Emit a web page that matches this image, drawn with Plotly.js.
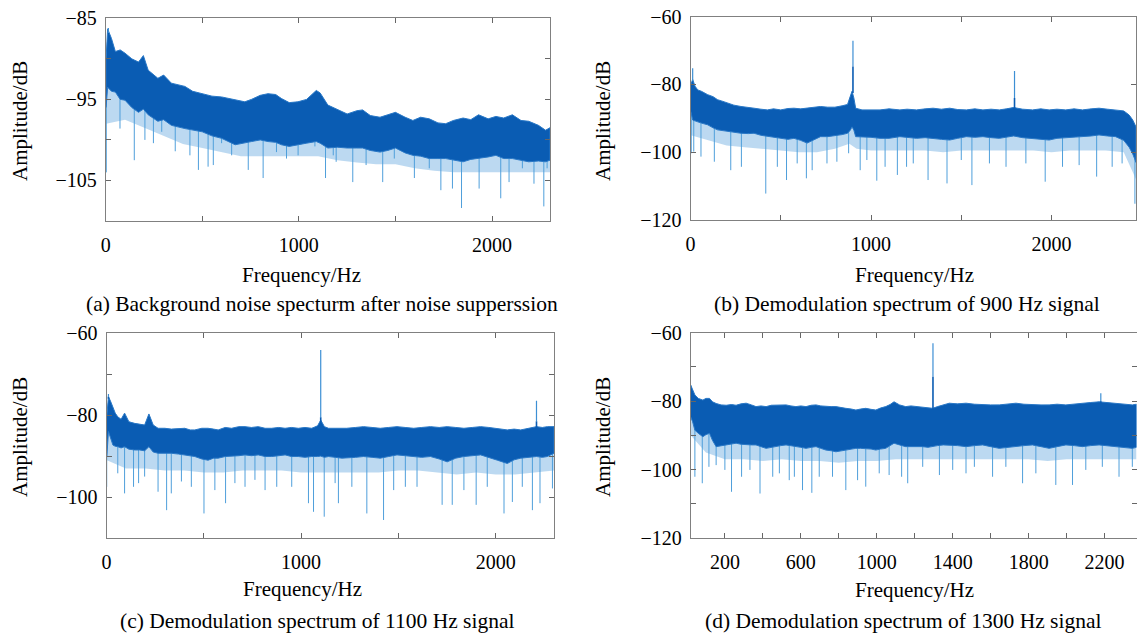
<!DOCTYPE html>
<html>
<head>
<meta charset="utf-8">
<script src="https://cdn.plot.ly/plotly-3.0.1.min.js"></script>
<style>html,body{margin:0;padding:0;background:#fff;}#chart{width:1137px;height:635px;}</style>
</head>
<body>
<div id="chart"></div>
<script>
// ---------- Panel (a): background noise spectrum ----------
const aFreq = [2,10,30,50,75,100,135,170,195,220,270,300,340,410,450,500,550,600,670,720,755,800,840,880,910,950,995,1040,1090,1110,1150,1200,1250,1300,1330,1370,1420,1460,1500,1550,1590,1630,1675,1720,1760,1800,1850,1890,1930,1980,2020,2060,2105,2150,2190,2240,2277,2300];
const aTop = [-90.0,-86.3,-87.5,-89.1,-88.9,-89.3,-90.0,-90.4,-89.6,-91.4,-92.4,-92.0,-93.0,-93.4,-94.0,-94.3,-94.6,-94.7,-95.1,-95.3,-95.0,-94.5,-94.3,-94.4,-94.9,-95.4,-95.3,-95.0,-93.9,-94.2,-95.7,-96.3,-96.8,-96.4,-96.3,-97.0,-97.2,-96.9,-96.6,-97.2,-97.6,-97.2,-97.4,-97.9,-98.0,-97.6,-97.3,-97.5,-96.9,-97.4,-97.1,-97.3,-96.9,-97.6,-97.7,-98.2,-98.8,-98.5];
const aBottom = [-96.0,-93.5,-94.0,-94.1,-95.0,-95.1,-96.0,-96.6,-96.2,-96.9,-97.7,-97.5,-98.2,-98.6,-98.8,-99.0,-99.5,-99.8,-100.6,-100.4,-100.2,-100.0,-100.2,-100.3,-100.6,-100.8,-100.6,-100.4,-100.2,-100.4,-101.0,-100.9,-101.0,-101.0,-101.0,-101.3,-101.5,-101.3,-101.0,-101.6,-101.9,-102.0,-102.3,-102.3,-102.3,-102.5,-102.7,-102.4,-102.3,-102.1,-101.9,-102.3,-102.3,-102.5,-102.7,-102.6,-102.7,-102.5];
const aFringeFreq = [2,100,200,300,400,500,600,700,800,900,1000,1100,1200,1300,1400,1500,1600,1700,1800,1900,2000,2100,2200,2300];
const aFringe = [-98.0,-97.5,-98.5,-99.5,-100.5,-101.0,-101.5,-102.0,-102.0,-102.0,-102.0,-102.0,-102.5,-102.8,-103.0,-103.0,-103.5,-103.8,-104.0,-104.0,-104.0,-104.0,-104.0,-104.0];
const aDipFreq = [3,74,148,203,247,290,360,436,480,530,557,600,652,738,815,884,936,996,1083,1138,1178,1193,1279,1348,1434,1494,1598,1675,1735,1795,1842,1933,2045,2088,2157,2217,2268,2285];
const aDipVal = [-104.0,-98.6,-102.5,-100.0,-100.4,-99.0,-101.4,-101.9,-103.7,-103.3,-103.1,-100.4,-101.9,-103.7,-104.7,-101.5,-102.3,-101.9,-100.8,-104.7,-101.9,-102.7,-105.2,-103.1,-105.2,-102.3,-104.7,-103.5,-106.2,-106.0,-108.4,-106.0,-107.2,-105.2,-103.5,-105.4,-108.2,-103.5];
const aPeakFreq = [14];
const aPeakVal = [-86.2];
const aCoreVal = [-86.8];

// ---------- Panel (b): 900 Hz signal ----------
const bFreq = [2,12,25,40,60,95,125,150,180,205,240,280,320,352,390,426,460,500,540,573,610,646,680,720,760,800,840,870,885,895,905,915,950,1000,1050,1100,1160,1200,1252,1300,1344,1390,1436,1480,1528,1575,1620,1665,1711,1750,1790,1840,1895,1940,1987,2030,2079,2125,2171,2220,2263,2310,2355,2400,2430,2450,2468];
const bTop = [-80.0,-78.5,-80.5,-81.6,-82.0,-83.0,-83.6,-84.5,-85.0,-85.5,-86.1,-86.5,-86.9,-87.0,-87.3,-87.5,-87.2,-87.5,-87.1,-87.0,-87.2,-87.0,-86.8,-86.5,-86.7,-86.7,-86.3,-85.9,-83.5,-82.0,-84.0,-87.0,-87.5,-87.5,-87.5,-87.2,-87.5,-87.3,-87.5,-87.2,-87.0,-87.3,-87.0,-87.4,-87.5,-87.2,-87.5,-87.3,-87.5,-87.2,-86.8,-87.3,-87.5,-87.2,-87.5,-87.3,-87.5,-87.2,-87.5,-87.2,-87.0,-87.3,-87.5,-87.8,-89.0,-90.5,-92.5];
const bBottom = [-88.0,-90.5,-90.8,-91.0,-91.4,-91.9,-92.8,-93.4,-93.6,-93.9,-94.1,-94.4,-94.5,-94.4,-95.0,-95.4,-95.6,-95.9,-96.2,-95.9,-96.5,-97.3,-96.4,-95.4,-95.4,-95.2,-94.8,-94.4,-93.5,-92.5,-93.5,-95.4,-95.4,-95.6,-95.9,-95.9,-95.4,-95.6,-95.9,-95.7,-95.9,-96.2,-96.4,-95.9,-95.4,-95.6,-95.4,-95.7,-95.9,-95.6,-95.2,-95.7,-95.9,-96.2,-96.4,-95.9,-95.9,-95.6,-95.4,-95.2,-94.9,-95.2,-95.4,-96.5,-98.5,-100.5,-103.0];
const bFringeFreq = [2,100,200,300,400,500,600,700,800,880,920,1000,1100,1200,1300,1400,1500,1600,1700,1800,1900,2000,2100,2200,2300,2400,2468];
const bFringe = [-95.0,-96.5,-98.0,-98.5,-99.0,-99.5,-100.0,-100.0,-99.0,-97.5,-99.0,-99.5,-99.5,-99.5,-99.5,-100.0,-99.5,-99.5,-99.5,-99.5,-99.5,-100.0,-99.5,-99.5,-99.5,-100.0,-108.0];
const bDipFreq = [4,18,58,132,223,282,417,481,532,591,642,674,756,811,876,940,977,1032,1078,1146,1197,1234,1316,1421,1500,1559,1656,1748,1858,1965,2061,2153,2250,2336,2391,2462];
const bDipVal = [-100.3,-99.8,-101.3,-102.8,-105.3,-104.3,-112.2,-104.3,-108.2,-103.3,-107.7,-105.3,-103.3,-102.8,-100.3,-105.3,-102.3,-108.4,-104.3,-106.7,-104.3,-103.3,-108.2,-109.2,-102.3,-109.7,-103.3,-104.3,-103.3,-108.7,-104.3,-103.8,-107.2,-104.3,-103.3,-115.2];
const bPeakFreq = [12,900,1795];
const bPeakVal = [-75.2,-67.1,-76.0];
const bCoreVal = [-79.0,-74.7,-84.0];

// ---------- Panel (c): 1100 Hz signal ----------
const cFreq = [2,10,20,33,45,58,75,93,115,144,170,196,218,240,265,300,333,370,402,430,454,490,522,550,574,610,643,680,712,745,780,815,849,885,918,950,986,1020,1055,1085,1101,1120,1141,1175,1210,1235,1280,1321,1365,1407,1450,1493,1535,1579,1620,1665,1710,1751,1795,1837,1880,1923,1965,2009,2060,2095,2129,2170,2210,2240,2266,2300];
const cTop = [-80.0,-75.5,-76.5,-77.9,-79.5,-80.4,-81.0,-79.5,-81.6,-82.0,-82.2,-82.4,-79.7,-82.4,-83.2,-83.2,-83.4,-83.2,-83.2,-83.6,-83.6,-83.2,-83.2,-83.4,-83.6,-83.0,-83.2,-82.8,-82.8,-83.0,-82.8,-83.2,-83.2,-83.0,-83.2,-83.0,-83.2,-83.0,-83.2,-82.6,-81.2,-82.8,-83.2,-83.2,-83.2,-83.2,-83.0,-82.8,-83.0,-83.2,-83.0,-82.8,-83.0,-83.2,-83.0,-82.8,-83.0,-82.8,-83.0,-83.2,-83.0,-82.8,-83.0,-83.2,-83.6,-83.4,-83.6,-83.2,-82.8,-83.0,-82.8,-82.8];
const cBottom = [-90.0,-84.0,-85.5,-87.3,-87.6,-87.7,-88.0,-87.7,-88.3,-88.5,-88.5,-88.7,-87.7,-89.0,-89.3,-89.3,-89.3,-89.5,-89.7,-89.9,-90.1,-90.7,-91.0,-90.5,-90.5,-90.1,-90.1,-89.9,-89.7,-89.9,-89.7,-90.1,-90.1,-89.9,-89.7,-90.1,-90.1,-90.3,-90.1,-90.1,-90.0,-90.3,-90.1,-90.3,-90.5,-90.5,-90.3,-90.1,-90.3,-90.5,-90.1,-89.7,-90.0,-90.1,-90.3,-90.1,-90.7,-91.4,-90.5,-90.1,-89.9,-89.7,-90.3,-91.0,-91.8,-90.9,-90.5,-90.3,-90.1,-90.3,-90.1,-89.3];
const cFringeFreq = [2,100,200,300,400,500,600,700,800,900,1000,1100,1200,1300,1400,1500,1600,1700,1800,1900,2000,2100,2200,2300];
const cFringe = [-91.0,-93.0,-93.0,-93.5,-93.5,-94.0,-94.0,-93.5,-93.5,-93.5,-94.0,-94.0,-94.0,-94.0,-94.0,-93.5,-93.5,-94.0,-94.5,-94.0,-94.5,-94.5,-94.0,-93.5];
const cDipFreq = [1,58,93,139,165,196,265,309,333,385,436,501,557,612,660,712,763,815,875,952,1038,1064,1119,1175,1192,1261,1338,1424,1476,1536,1596,1725,1777,1837,1900,1957,2043,2086,2137,2189,2228,2292];
const cDipVal = [-97.5,-94.2,-99.1,-97.5,-96.6,-95.0,-98.7,-103.2,-99.1,-96.2,-97.5,-104.0,-98.3,-101.5,-96.6,-97.5,-95.8,-98.3,-97.5,-97.5,-101.5,-103.6,-104.8,-96.6,-101.5,-97.5,-104.0,-105.6,-98.3,-97.5,-97.5,-101.9,-101.9,-98.3,-101.9,-97.5,-104.0,-101.2,-97.5,-103.2,-101.5,-97.9];
const cPeakFreq = [10,1101,2210];
const cPeakVal = [-74.8,-64.1,-76.5];
const cCoreVal = [-75.5,-80.5,-81.5];

// ---------- Panel (d): 1300 Hz signal ----------
const dFreq = [20,30,42,60,84,100,119,135,154,180,207,235,259,285,312,340,364,390,417,445,469,495,522,548,574,600,627,655,680,705,732,760,785,810,837,865,890,915,942,970,995,1020,1047,1070,1091,1120,1152,1180,1207,1240,1270,1295,1320,1350,1382,1425,1470,1515,1558,1600,1645,1690,1733,1775,1820,1865,1908,1950,1996,2040,2083,2127,2171,2215,2258,2300,2346,2368];
const dTop = [-75.3,-76.5,-78.2,-79.2,-79.7,-79.2,-79.2,-80.2,-80.7,-81.1,-81.2,-81.0,-81.2,-80.8,-80.6,-81.1,-81.6,-81.4,-81.6,-81.2,-81.1,-81.2,-81.1,-81.4,-81.6,-81.4,-81.6,-81.2,-81.1,-81.4,-81.6,-81.6,-81.6,-81.9,-82.1,-82.3,-82.6,-82.3,-82.1,-82.4,-82.6,-82.0,-81.6,-81.0,-80.2,-81.1,-81.6,-81.4,-81.6,-81.8,-82.0,-82.1,-81.6,-81.2,-80.6,-80.8,-80.6,-80.9,-81.1,-81.1,-81.1,-80.9,-80.6,-80.9,-81.1,-81.1,-81.1,-80.9,-81.1,-80.8,-80.6,-80.4,-80.2,-80.4,-80.6,-80.9,-81.1,-80.9];
const dBottom = [-84.6,-86.0,-88.5,-89.4,-90.4,-89.8,-89.4,-91.5,-93.3,-93.0,-92.8,-92.5,-92.3,-92.6,-92.8,-92.8,-92.8,-93.3,-93.8,-93.5,-93.3,-93.0,-92.8,-93.0,-93.3,-93.5,-93.8,-93.5,-93.3,-93.8,-94.3,-94.5,-94.8,-94.5,-94.3,-94.0,-93.8,-93.8,-93.8,-94.0,-94.3,-94.0,-93.8,-93.0,-92.3,-92.8,-93.3,-93.3,-93.3,-93.3,-93.5,-93.3,-93.0,-92.8,-92.8,-93.0,-93.3,-93.0,-92.8,-93.3,-93.8,-93.5,-93.3,-93.0,-92.8,-93.3,-93.8,-93.3,-92.8,-93.0,-93.3,-93.0,-92.8,-93.0,-93.3,-93.5,-93.8,-93.5];
const dFringeFreq = [20,100,200,300,400,500,600,700,800,900,1000,1100,1200,1300,1400,1500,1600,1700,1800,1900,2000,2100,2200,2300,2368];
const dFringe = [-90.0,-95.0,-97.0,-97.0,-97.5,-97.0,-97.5,-97.5,-98.0,-97.5,-97.5,-97.0,-97.0,-97.0,-97.0,-97.0,-97.0,-97.0,-97.0,-97.5,-97.0,-97.0,-97.0,-97.0,-97.0];
const dDipFreq = [42,81,116,154,200,235,288,332,385,452,487,539,566,609,658,697,767,837,899,942,1013,1065,1131,1163,1242,1330,1400,1470,1514,1610,1680,1768,1838,1943,2031,2101,2188,2276,2346];
const dDipVal = [-102.1,-104.0,-99.2,-98.7,-100.1,-106.5,-102.1,-100.1,-107.0,-102.1,-101.1,-103.1,-102.1,-106.0,-106.8,-102.1,-102.1,-106.0,-103.1,-105.0,-101.1,-101.6,-102.1,-104.0,-99.2,-101.6,-100.1,-101.1,-99.2,-102.1,-99.2,-104.0,-101.1,-104.5,-104.5,-100.1,-99.2,-102.1,-99.2];
const dPeakFreq = [20,1296,2180];
const dPeakVal = [-75.3,-63.1,-77.7];
const dCoreVal = [-76.0,-72.9,-80.0];

// ---------- Text ----------
const captions = [
  "(a) Background noise specturm after noise supperssion",
  "(b) Demodulation spectrum of 900 Hz signal",
  "(c) Demodulation spectrum of 1100 Hz signal",
  "(d) Demodulation spectrum of 1300 Hz signal"
];
const xTitle = "Frequency/Hz";
const yTitle = "Amplitude/dB";

// ---------- Drawing ----------
const DARK = '#0a5cb3', EDGE = '#2a78c6', LIGHT = '#4f9fdb', SPIKE = '#3d8fd4', FRINGE = 'rgba(80,155,218,0.38)';
const FONT = 'Liberation Serif, Times New Roman, serif';
const W = 1137, H = 635;

function nearest(f, q){ let bi = 0; for (let i = 1; i < f.length; i++) if (Math.abs(f[i]-q) < Math.abs(f[bi]-q)) bi = i; return bi; }

function panelTraces(f, top, bot, ff, fr, df, dv, pf, pv, cv, xa, ya){
  const tr = [];
  const base = {type:'scatter', mode:'lines', xaxis:xa, yaxis:ya, hoverinfo:'skip', showlegend:false};
  // light fringe of dense thin lines under the band
  tr.push(Object.assign({}, base, {x:ff.concat(f.slice().reverse()), y:fr.concat(top.slice().reverse()),
           fill:'toself', fillcolor:FRINGE, line:{color:'rgba(0,0,0,0)', width:0}}));
  // light downward noise dips
  const dx = [], dy = [];
  df.forEach((q, i) => { const k = nearest(f, q); dx.push(q, q, null); dy.push(dv[i], bot[k] + 1, null); });
  tr.push(Object.assign({}, base, {x:dx, y:dy, line:{color:LIGHT, width:1}}));
  // dense band
  tr.push(Object.assign({}, base, {x:f.concat(f.slice().reverse()), y:top.concat(bot.slice().reverse()),
           fill:'toself', fillcolor:DARK, line:{color:EDGE, width:1}}));
  // tone peaks
  const lx = [], ly = [], kx = [], ky = [];
  pf.forEach((q, i) => { const k = nearest(f, q); lx.push(q, q, null); ly.push(cv[i], pv[i], null); kx.push(q, q, null); ky.push(top[k] - 0.5, cv[i], null); });
  tr.push(Object.assign({}, base, {x:lx, y:ly, line:{color:SPIKE, width:1.2}}));
  tr.push(Object.assign({}, base, {x:kx, y:ky, line:{color:DARK, width:1.6}}));
  return tr;
}

const data = [].concat(
  panelTraces(aFreq, aTop, aBottom, aFringeFreq, aFringe, aDipFreq, aDipVal, aPeakFreq, aPeakVal, aCoreVal, 'x', 'y'),
  panelTraces(bFreq, bTop, bBottom, bFringeFreq, bFringe, bDipFreq, bDipVal, bPeakFreq, bPeakVal, bCoreVal, 'x2', 'y2'),
  panelTraces(cFreq, cTop, cBottom, cFringeFreq, cFringe, cDipFreq, cDipVal, cPeakFreq, cPeakVal, cCoreVal, 'x3', 'y3'),
  panelTraces(dFreq, dTop, dBottom, dFringeFreq, dFringe, dDipFreq, dDipVal, dPeakFreq, dPeakVal, dCoreVal, 'x4', 'y4')
);

function px2x(p){ return p / W; }
function px2y(p){ return 1 - p / H; }

function axisBase(){
  return {showgrid:false, zeroline:false, showline:true, linecolor:'#808080', linewidth:1, mirror:'ticks',
          ticks:'inside', ticklen:5, tickcolor:'#666', tickwidth:1,
          tickfont:{family:FONT, size:20, color:'#000'}, automargin:false, fixedrange:true};
}
function xAx(l, r, range, vals, labels, anchor){
  return Object.assign(axisBase(), {domain:[px2x(l), px2x(r)], range:range, tickvals:vals, ticktext:labels, anchor:anchor, ticklabelstandoff:6});
}
function yAx(t, b, range, vals, labels, anchor){
  return Object.assign(axisBase(), {domain:[px2y(b), px2y(t)], range:range, tickvals:vals, ticktext:labels, anchor:anchor, ticklabelstandoff:4});
}

const xt0 = [0,500,1000,1500,2000], xl0 = ['0','','1000','','2000'];
const xtD = [200,400,600,800,1000,1200,1400,1600,1800,2000,2200], xlD = ['200','','600','','1000','','1400','','1800','','2200'];
const ytA = [-110,-105,-100,-95,-90,-85], ylA = ['','−105','','−95','','−85'];
const ytB = [-120,-100,-80,-60], ylB = ['−120','−100','−80','−60'];
const ytC = [-110,-100,-90,-80,-70,-60], ylC = ['','−100','','−80','','−60'];
const ytD = [-120,-110,-100,-90,-80,-70,-60], ylD = ['−120','','−100','','−80','','−60'];

const layout = {
  width:W, height:H, margin:{l:0, r:0, t:0, b:0}, paper_bgcolor:'#fff', plot_bgcolor:'#fff', showlegend:false,
  font:{family:FONT, size:20, color:'#000'},
  xaxis:  xAx(105.7, 550,   [0, 2300],  xt0, xl0, 'y'),
  yaxis:  yAx(18.3, 221,    [-110, -85], ytA, ylA, 'x'),
  xaxis2: xAx(690.5, 1136,  [0, 2468],  xt0, xl0, 'y2'),
  yaxis2: yAx(16.7, 220,    [-120, -60], ytB, ylB, 'x2'),
  xaxis3: xAx(106.5, 554,   [0, 2300],  xt0, xl0, 'y3'),
  yaxis3: yAx(333.3, 538,   [-110, -60], ytC, ylC, 'x3'),
  xaxis4: xAx(690.7, 1136.5,[20, 2368], xtD, xlD, 'y4'),
  yaxis4: yAx(332.7, 538,   [-120, -60], ytD, ylD, 'x4'),
  annotations: []
};

function ann(text, x, y, angle, size){
  return {text:text, xref:'paper', yref:'paper', x:px2x(x), y:px2y(y), xanchor:'center', yanchor:'middle',
          showarrow:false, textangle:angle||0, font:{family:FONT, size:size||21, color:'#000'}};
}
layout.annotations.push(
  ann(xTitle, 301, 275), ann(xTitle, 914, 275), ann(xTitle, 302, 589), ann(xTitle, 914, 590),
  ann(yTitle, 20, 121, -90), ann(yTitle, 603, 121, -90), ann(yTitle, 20, 437, -90), ann(yTitle, 603, 437, -90),
  ann(captions[0], 322, 304, 0, 21.5), ann(captions[1], 907, 304, 0, 21.5), ann(captions[2], 317, 621, 0, 21.5), ann(captions[3], 903, 621, 0, 21.5)
);

Plotly.newPlot('chart', data, layout, {staticPlot:true, displayModeBar:false});
</script>
</body>
</html>
